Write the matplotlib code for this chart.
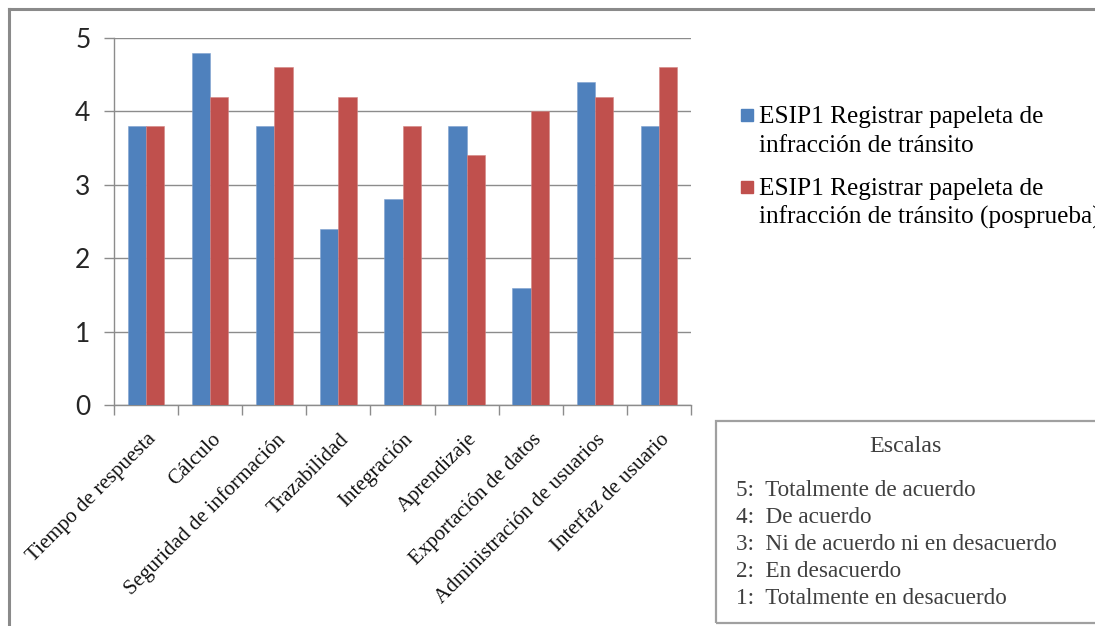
import matplotlib
matplotlib.use("Agg")
import matplotlib.pyplot as plt
import numpy as np
from matplotlib.patches import Rectangle
from matplotlib.transforms import ScaledTranslation

categories = ["Tiempo de respuesta", "Cálculo", "Seguridad de información",
              "Trazabilidad", "Integración", "Aprendizaje",
              "Exportación de datos", "Administración de usuarios",
              "Interfaz de usuario"]
pre_values = [3.8, 4.8, 3.8, 2.4, 2.8, 3.8, 1.6, 4.4, 3.8]
post_values = [3.8, 4.2, 4.6, 4.2, 3.8, 3.4, 4.0, 4.2, 4.6]
series_labels = [["ESIP1 Registrar papeleta de", "infracción de tránsito"],
                 ["ESIP1 Registrar papeleta de", "infracción de tránsito (posprueba)"]]
scale_title = "Escalas"
scale_lines = ["5:  Totalmente de acuerdo", "4:  De acuerdo",
               "3:  Ni de acuerdo ni en desacuerdo", "2:  En desacuerdo",
               "1:  Totalmente en desacuerdo"]
y_ticks = [0, 1, 2, 3, 4, 5]

BLUE = "#4F81BD"
RED = "#C0504D"
GRID = "#8C8C8C"
SERIF = ["Liberation Serif", "DejaVu Serif"]
SANS = ["Lato", "Liberation Sans", "DejaVu Sans"]

W, H = 1095, 626
fig = plt.figure(figsize=(W / 100, H / 100), dpi=100)
renderer = fig.canvas.get_renderer()


def fx(px):
    return px / W


def fy(py):
    return 1 - py / H


def size_for_width(text, width_px, family, base=14.0):
    """Font size at which `text` spans roughly width_px pixels."""
    t = fig.text(0, 0, text, fontsize=base, family=family)
    wpx = t.get_window_extent(renderer).width
    t.remove()
    return base * width_px / wpx


# outer chart frame
fig.add_artist(plt.Line2D([fx(8.5), fx(8.5)], [fy(9), fy(626)], color="#8A8A8A", lw=2.2))
fig.add_artist(plt.Line2D([fx(8.5), fx(1095)], [fy(9), fy(9)], color="#8A8A8A", lw=2.2))

ax = fig.add_axes([fx(114), fy(405), fx(691) - fx(114), fy(38) - fy(405)])
x = np.arange(len(categories))
w = 1 / 3.5
ax.bar(x - w / 2, pre_values, w, color=BLUE, edgecolor="#7FA2D0", linewidth=0.4, zorder=3)
ax.bar(x + w / 2, post_values, w, color=RED, edgecolor="#D48583", linewidth=0.4, zorder=3)

ax.set_xlim(-0.5, len(categories) - 0.5)
ax.set_ylim(0, 5)
ax.set_yticks(y_ticks)
ax.set_yticklabels([str(t) for t in y_ticks], fontsize=19, family=SANS, color="#262626")
ax.yaxis.grid(True, color=GRID, lw=1.0, zorder=0)
for s in ["top", "right"]:
    ax.spines[s].set_visible(False)
for s in ["left", "bottom"]:
    ax.spines[s].set_color(GRID)
    ax.spines[s].set_linewidth(1.0)
ax.tick_params(axis="y", length=7, width=1.0, color=GRID, pad=10)
ax.set_xticks(np.arange(len(categories) + 1) - 0.5, minor=True)
ax.set_xticks(x)
ax.tick_params(axis="x", which="major", length=0, pad=18)
ax.tick_params(axis="x", which="minor", length=7, width=1.0, color=GRID)

cat_size = size_for_width(categories[0], 174, SERIF)
ax.set_xticklabels(categories, rotation=45, ha="right", va="top",
                   rotation_mode="anchor", fontsize=cat_size, family=SERIF, color="#111111")
offset = ScaledTranslation(1 / 100, 0, fig.dpi_scale_trans)
for lbl in ax.get_xticklabels():
    lbl.set_transform(lbl.get_transform() + offset)

# series key
leg_size = size_for_width(series_labels[0][0], 286, SERIF)
legend_rows = [(109, 123, BLUE, series_labels[0]), (181, 195, RED, series_labels[1])]
for ytop, base, col, lines in legend_rows:
    fig.add_artist(Rectangle((fx(741), fy(ytop + 12)), fx(12), 12 / H, color=col,
                             transform=fig.transFigure))
    for k, line in enumerate(lines):
        fig.text(fx(759), fy(base + 29 * k), line, fontsize=leg_size, family=SERIF,
                 color="black", va="baseline", ha="left")

# scale box
fig.add_artist(Rectangle((fx(715.5), fy(622.5)), fx(1095) - fx(715.5) + 0.01,
                         (622.5 - 421) / H, fill=False, edgecolor="#A0A0A0", lw=1.6,
                         transform=fig.transFigure))
title_size = size_for_width(scale_title, 73, SERIF)
fig.text(fx(905), fy(447), scale_title, fontsize=title_size, family=SERIF, color="#3F3F3F",
         ha="center", va="center")
line_size = size_for_width(scale_lines[0], 240, SERIF)
for i, line in enumerate(scale_lines):
    fig.text(fx(736), fy(490 + i * 27.2), line, fontsize=line_size, family=SERIF,
             color="#3F3F3F", ha="left", va="center")

fig.savefig("out.png", dpi=100)
